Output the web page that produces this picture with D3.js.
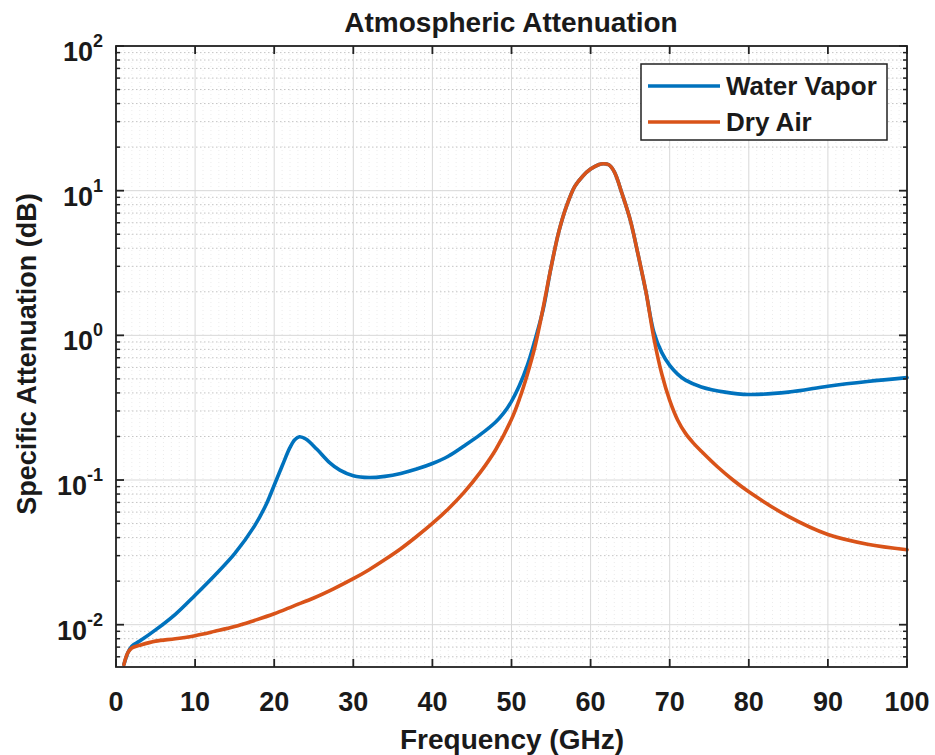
<!DOCTYPE html>
<html>
<head>
<meta charset="utf-8">
<script src="https://cdn.jsdelivr.net/npm/d3@7"></script>
<style>
  body { margin: 0; background: #fff; }
  svg text { font-family: "Liberation Sans", Arial, sans-serif; font-weight: bold; fill: #1a1a1a; }
</style>
</head>
<body>
<svg id="chart" width="935" height="755"></svg>
<script>
// ---------- data ----------
const seriesNames = ["Water Vapor", "Dry Air"];

const freqWV = [1, 1.5, 2, 3, 5, 7.5, 10, 12.5, 15, 17.5, 19, 20, 21, 22, 22.6, 23.2, 24, 25.4, 27, 28.3, 30, 32, 34, 36, 38, 40, 42, 44, 46, 48, 49, 50, 51, 52, 53, 54, 55, 56, 57, 58, 59, 60, 61, 61.6, 62.3, 63, 64, 65, 66, 67, 68, 69, 70, 71, 72, 74, 77, 80, 85, 90, 95, 100];
const attWV  = [0.0053, 0.0064, 0.0071, 0.0077, 0.0092, 0.0118, 0.016, 0.022, 0.031, 0.048, 0.068, 0.092, 0.125, 0.168, 0.19, 0.199, 0.192, 0.163, 0.132, 0.117, 0.107, 0.104, 0.106, 0.111, 0.119, 0.130, 0.146, 0.172, 0.205, 0.252, 0.29, 0.35, 0.45, 0.62, 0.94, 1.51, 2.95, 5.25, 7.94, 10.7, 12.6, 14.1, 15.1, 15.35, 15.1, 13.5, 9.44, 6.31, 3.63, 2.0, 1.05, 0.76, 0.62, 0.54, 0.49, 0.44, 0.405, 0.39, 0.405, 0.445, 0.48, 0.51];

const freqDA = [1, 1.5, 2, 3, 5, 7.5, 10, 12.5, 15, 17.5, 20, 22.5, 25, 27.5, 30, 32, 34, 36, 38, 40, 42, 44, 46, 48, 50, 51, 52, 53, 54, 55, 56, 57, 58, 59, 60, 61, 61.6, 62.3, 63, 64, 65, 66, 67, 68, 69, 70, 71, 72, 73, 74, 76, 78, 80, 85, 90, 95, 100];
const attDA  = [0.0053, 0.0064, 0.0069, 0.0072, 0.0077, 0.008, 0.0084, 0.009, 0.0097, 0.0107, 0.0119, 0.0135, 0.0153, 0.0177, 0.0208, 0.024, 0.0282, 0.0335, 0.0407, 0.0501, 0.0631, 0.0822, 0.112, 0.162, 0.263, 0.363, 0.537, 0.851, 1.55, 2.95, 5.25, 7.94, 10.7, 12.6, 14.1, 15.1, 15.35, 15.1, 13.5, 9.44, 6.31, 3.63, 2.0, 0.955, 0.54, 0.355, 0.26, 0.21, 0.18, 0.158, 0.124, 0.1, 0.083, 0.056, 0.042, 0.036, 0.033];

const xTicks = [0, 10, 20, 30, 40, 50, 60, 70, 80, 90, 100];
const yTickExps = [-2, -1, 0, 1, 2];
const colors = ["#0072BD", "#D95319"];

// ---------- layout ----------
const svg = d3.select("#chart");
const L = 116, R = 907, T = 46, B = 667;
const x = d3.scaleLinear().domain([0, 100]).range([L, R]);
const y = d3.scaleLog().domain([0.0051, 100]).range([B, T]);

// minor grids
const minorY = [];
for (let e = -3; e <= 1; e++) for (let k = 2; k <= 9; k++) {
  const v = k * Math.pow(10, e);
  if (v > y.domain()[0] && v < 100) minorY.push(v);
}
const minorX = d3.range(1, 100).filter(v => v % 10 !== 0);

const g = svg.append("g");
g.selectAll(".mxg").data(minorX).enter().append("line")
  .attr("x1", d => x(d)).attr("x2", d => x(d)).attr("y1", T).attr("y2", B)
  .attr("stroke", "#d6d6d6").attr("stroke-width", 1).attr("stroke-dasharray", "1,3").attr("opacity", 0.45);
g.selectAll(".myg").data(minorY).enter().append("line")
  .attr("x1", L).attr("x2", R).attr("y1", d => y(d)).attr("y2", d => y(d))
  .attr("stroke", "#c4c4c4").attr("stroke-width", 1).attr("stroke-dasharray", "1.5,2.5");
g.selectAll(".Mxg").data(xTicks).enter().append("line")
  .attr("x1", d => x(d)).attr("x2", d => x(d)).attr("y1", T).attr("y2", B)
  .attr("stroke", "#d8d8d8").attr("stroke-width", 1);
g.selectAll(".Myg").data(yTickExps).enter().append("line")
  .attr("x1", L).attr("x2", R).attr("y1", d => y(Math.pow(10, d))).attr("y2", d => y(Math.pow(10, d)))
  .attr("stroke", "#d8d8d8").attr("stroke-width", 1);

// lines
const line = d3.line().x(d => x(d[0])).y(d => y(d[1])).curve(d3.curveCatmullRom.alpha(0.5));
const series = [d3.zip(freqWV, attWV), d3.zip(freqDA, attDA)];
svg.append("g").selectAll("path").data(series).enter().append("path")
  .attr("d", line).attr("fill", "none")
  .attr("stroke", (d, i) => colors[i]).attr("stroke-width", 3.6)
  .attr("stroke-linejoin", "round").attr("stroke-linecap", "round");

// axes box + ticks
const ax = svg.append("g").attr("stroke", "#222");
ax.append("rect").attr("x", L).attr("y", T).attr("width", R - L).attr("height", B - T)
  .attr("fill", "none").attr("stroke-width", 1.8);
xTicks.forEach(t => {
  ax.append("line").attr("x1", x(t)).attr("x2", x(t)).attr("y1", B).attr("y2", B - 8).attr("stroke-width", 1.8);
  ax.append("line").attr("x1", x(t)).attr("x2", x(t)).attr("y1", T).attr("y2", T + 8).attr("stroke-width", 1.8);
});
yTickExps.forEach(e => {
  const yy = y(Math.pow(10, e));
  ax.append("line").attr("x1", L).attr("x2", L + 8).attr("y1", yy).attr("y2", yy).attr("stroke-width", 1.8);
  ax.append("line").attr("x1", R).attr("x2", R - 8).attr("y1", yy).attr("y2", yy).attr("stroke-width", 1.8);
});
minorY.forEach(v => {
  const yy = y(v);
  ax.append("line").attr("x1", L).attr("x2", L + 4).attr("y1", yy).attr("y2", yy).attr("stroke-width", 1.5);
  ax.append("line").attr("x1", R).attr("x2", R - 4).attr("y1", yy).attr("y2", yy).attr("stroke-width", 1.5);
});

// tick labels
svg.append("g").selectAll("text").data(xTicks).enter().append("text")
  .attr("x", d => x(d)).attr("y", 711).attr("text-anchor", "middle")
  .attr("font-size", 27).text(d => d);

const yl = svg.append("g").selectAll("text").data(yTickExps).enter().append("text")
  .attr("x", 103).attr("y", d => y(Math.pow(10, d)) + 15).attr("text-anchor", "end")
  .attr("font-size", 27);
yl.append("tspan").text("10");
yl.append("tspan").attr("dy", -14).attr("font-size", 18).text(d => d);

// titles
svg.append("text").attr("x", 511).attr("y", 32).attr("text-anchor", "middle")
  .attr("font-size", 28).text("Atmospheric Attenuation");
svg.append("text").attr("x", 512).attr("y", 749).attr("text-anchor", "middle")
  .attr("font-size", 28).text("Frequency (GHz)");
svg.append("text").attr("transform", "translate(36,354) rotate(-90)").attr("text-anchor", "middle")
  .attr("font-size", 27).text("Specific Attenuation (dB)");

// legend
const lg = svg.append("g");
lg.append("rect").attr("x", 641).attr("y", 64).attr("width", 246).attr("height", 76)
  .attr("fill", "#fff").attr("stroke", "#222").attr("stroke-width", 1.5);
seriesNames.forEach((n, i) => {
  const yy = 86 + i * 36;
  lg.append("line").attr("x1", 648).attr("x2", 720).attr("y1", yy).attr("y2", yy)
    .attr("stroke", colors[i]).attr("stroke-width", 3.6);
  lg.append("text").attr("x", 726).attr("y", yy + 9).attr("font-size", 26).text(n);
});
</script>
</body>
</html>
